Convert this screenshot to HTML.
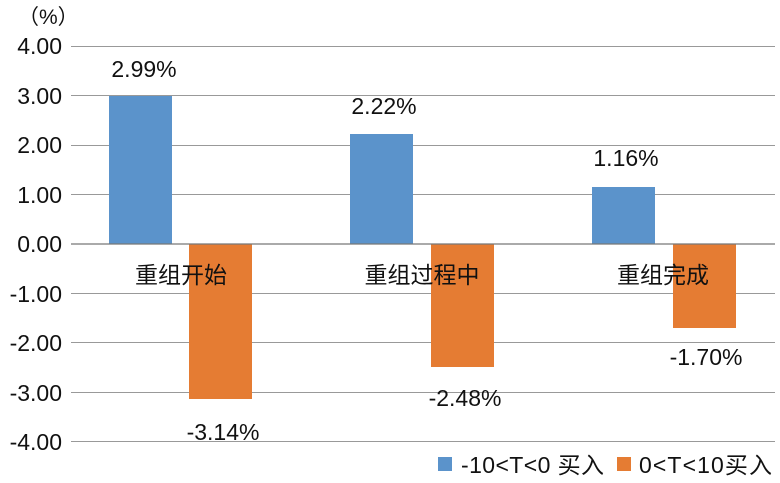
<!DOCTYPE html><html><head><meta charset="utf-8"><style>body{margin:0;background:#fff}svg text{font-family:"Liberation Sans","Noto Sans CJK SC",sans-serif;fill:#111}</style></head><body>
<svg width="780" height="478" xmlns="http://www.w3.org/2000/svg">
<g stroke="#999" stroke-width="1">
<line x1="71" x2="775" y1="46.5" y2="46.5"/><line x1="71" x2="775" y1="95.5" y2="95.5"/><line x1="71" x2="775" y1="145.5" y2="145.5"/><line x1="71" x2="775" y1="194.5" y2="194.5"/><line x1="71" x2="775" y1="293.5" y2="293.5"/><line x1="71" x2="775" y1="342.5" y2="342.5"/><line x1="71" x2="775" y1="392.5" y2="392.5"/><line x1="71" x2="775" y1="441.5" y2="441.5"/>
</g>
<g fill="#5b93cb"><rect x="109" y="96" width="63" height="148"/><rect x="350" y="134" width="63" height="110"/><rect x="592" y="187" width="63" height="57"/></g>
<g fill="#e57c33"><rect x="189" y="244" width="63" height="155"/><rect x="431" y="244" width="63" height="123"/><rect x="673" y="244" width="63" height="84"/></g>
<line x1="71" x2="775" y1="244" y2="244" stroke="#777" stroke-width="1.3"/>
<g font-size="23" text-anchor="end"><text x="62" y="54">4.00</text><text x="62" y="104">3.00</text><text x="62" y="153">2.00</text><text x="62" y="203">1.00</text><text x="62" y="252">0.00</text><text x="62" y="302">-1.00</text><text x="62" y="351">-2.00</text><text x="62" y="401">-3.00</text><text x="62" y="450">-4.00</text></g>
<text x="18" y="24" font-size="21">（%）</text>
<g font-size="23" text-anchor="middle"><text x="144" y="77">2.99%</text><text x="384" y="114">2.22%</text><text x="626" y="166">1.16%</text>
<text x="223" y="440">-3.14%</text><text x="465" y="406">-2.48%</text><text x="706" y="365">-1.70%</text></g>
<g font-size="23" text-anchor="middle"><text x="181" y="283">重组开始</text><text x="422" y="283">重组过程中</text><text x="663" y="283">重组完成</text></g>
<rect x="438" y="457" width="14" height="14" fill="#5b93cb"/><text x="461" y="473" font-size="23" textLength="143">-10&lt;T&lt;0 买入</text>
<rect x="617" y="457" width="14" height="14" fill="#e57c33"/><text x="639" y="473" font-size="23" textLength="133">0&lt;T&lt;10买入</text>
</svg></body></html>
